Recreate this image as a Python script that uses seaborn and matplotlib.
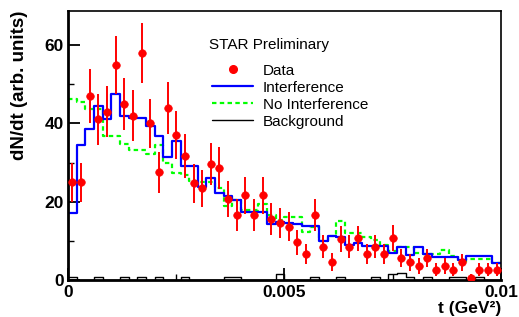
import numpy as np
import pandas as pd
import matplotlib
matplotlib.use("Agg")
import matplotlib.pyplot as plt
import seaborn as sns
from matplotlib.lines import Line2D

# ----------------------------
# DATA (50 bins of 0.0002 GeV^2)
# ----------------------------
t_edges = list(np.linspace(0.0, 0.01, 51))

data = [25, 25, 47, 41, 43, 55, 45, 42, 58, 40,
        27.5, 44, 37, 31.6, 24.7, 23.4, 29.7, 28.6, 20.7, 16.7,
        21.6, 16.7, 21.6, 15.6, 14.6, 13.6, 9.6, 6.6, 16.7, 8.5,
        4.6, 10.5, 8.5, 10.6, 6.6, 8.5, 6.6, 10.7, 5.6, 4.5,
        3.5, 5.6, 2.6, 3.5, 2.6, 4.5, 0.6, 2.6, 2.6, 2.6]

data_err = [5.0, 5.0, 6.9, 6.4, 6.6, 7.4, 6.7, 6.5, 7.6, 6.3,
            5.2, 6.6, 6.1, 5.6, 5.0, 4.8, 5.4, 5.4, 4.6, 4.1,
            4.7, 4.1, 4.7, 4.0, 3.9, 3.7, 3.2, 2.6, 4.1, 3.0,
            2.2, 3.3, 3.0, 3.3, 2.6, 3.0, 2.6, 3.3, 2.4, 2.2,
            2.0, 2.4, 1.7, 2.0, 1.7, 2.2, 1.0, 1.7, 1.7, 1.7]

interference = [17.1, 34.6, 38.5, 44.4, 41.0, 47.5, 41.8, 41.5, 41.5, 39.3,
                36.9, 31.5, 35.6, 29.1, 29.1, 23.8, 26.0, 22.2, 21.5, 20.3,
                17.3, 17.3, 17.3, 14.4, 14.9, 14.6, 14.3, 13.8, 13.8, 10.0,
                11.3, 10.9, 9.0, 9.5, 8.7, 8.7, 8.7, 7.0, 8.4, 6.3,
                8.5, 6.5, 5.9, 5.9, 5.9, 5.0, 6.0, 6.0, 6.0, 4.4]

no_interference = [46.2, 45.5, 43.8, 43.8, 36.8, 36.8, 34.7, 33.1, 33.1, 32.1,
                   34.4, 30.0, 27.2, 26.8, 25.4, 24.9, 24.9, 23.6, 18.8, 20.3,
                   17.9, 17.9, 19.5, 16.7, 15.3, 16.1, 16.1, 12.3, 13.5, 10.0,
                   11.3, 15.1, 12.1, 12.1, 10.9, 10.2, 9.0, 7.3, 8.3, 8.3,
                   6.8, 6.5, 6.5, 7.6, 6.2, 4.4, 5.3, 5.3, 5.3, 4.4]

background = [0.8, 0, 0, 0.8, 0, 0, 0.8, 0, 0.8, 0,
              0.8, 0, 0, 0.8, 0, 0, 0, 0, 0.8, 0.8,
              0, 0, 0, 0, 1.6, 0, 0, 0, 0.8, 0,
              0, 0.8, 0, 0, 0, 0.8, 0, 1.5, 1.7, 0.8,
              0, 0.8, 0, 0, 0.8, 0.8, 0, 0.8, 0, 0]

t_centers = 0.5 * (np.array(t_edges[:-1]) + np.array(t_edges[1:]))

df = pd.DataFrame({
    "t": t_centers,
    "data": data,
    "err": data_err,
    "interf": interference,
    "nointerf": no_interference,
    "bkg": background,
})

# ----------------------------
# PLOT
# ----------------------------
sns.set_style("ticks")
plt.rcParams["font.family"] = ["Liberation Sans", "DejaVu Sans"]
plt.rcParams.update({
    "text.color": "black",
    "axes.labelcolor": "black",
    "axes.edgecolor": "black",
    "xtick.color": "black",
    "ytick.color": "black",
})

fig, ax = plt.subplots(figsize=(5.19, 3.17), dpi=100)
fig.subplots_adjust(left=0.131, right=0.965, bottom=0.117, top=0.965)

sns.histplot(data=df, x="t", weights="bkg", bins=t_edges, element="step",
             fill=False, color="black", linewidth=1.0, ax=ax)
sns.histplot(data=df, x="t", weights="nointerf", bins=t_edges, element="step",
             fill=False, color="#00ff00", linewidth=1.6,
             linestyle=(0, (2, 1.5)), ax=ax)
sns.histplot(data=df, x="t", weights="interf", bins=t_edges, element="step",
             fill=False, color="#0000ff", linewidth=1.6, ax=ax)

ax.errorbar(df["t"], df["data"], yerr=df["err"], fmt="none",
            ecolor="#ff0000", elinewidth=1.4, capsize=0, zorder=4)
sns.scatterplot(data=df, x="t", y="data", color="#ff0000", edgecolor="#ff0000",
                s=30, marker="o", zorder=5, ax=ax)

ax.set_xlim(0, 0.01)
ax.set_ylim(0, 68.7)

ax.set_xticks([0, 0.005, 0.01])
ax.set_xticklabels(["0", "0.005", "0.01"])
ax.set_xticks([0.0025, 0.0075], minor=True)
ax.set_yticks([0, 20, 40, 60])
ax.set_yticks([10, 30, 50], minor=True)

ax.tick_params(axis="both", which="major", direction="in", length=8.5,
               width=1.3, labelsize=12.5, top=False, right=False)
ax.tick_params(axis="both", which="minor", direction="in", length=4.5,
               width=1.0, top=False, right=False)
ax.tick_params(axis="y", pad=3)
ax.tick_params(axis="x", pad=4)
for lab in ax.get_xticklabels() + ax.get_yticklabels():
    lab.set_fontweight("bold")

for side in ["left", "bottom"]:
    ax.spines[side].set_linewidth(2.0)
for side in ["top", "right"]:
    ax.spines[side].set_linewidth(1.2)
    ax.spines[side].set_visible(True)

ax.set_xlabel("t (GeV²)", fontsize=12.5, fontweight="bold", ha="right")
ax.xaxis.set_label_coords(1.0, -0.077)
ax.set_ylabel("dN/dt (arb. units)", fontsize=13.5, fontweight="bold",
              loc="top", labelpad=12)

ax.text(0.326, 0.874, "STAR Preliminary", transform=ax.transAxes,
        fontsize=11, va="center", ha="left")

handles = [
    Line2D([], [], color="#ff0000", marker="o", linestyle="none", markersize=5.5),
    Line2D([], [], color="#0000ff", linewidth=1.6),
    Line2D([], [], color="#00ff00", linewidth=1.6, linestyle=(0, (2, 1.5))),
    Line2D([], [], color="black", linewidth=1.0),
]
labels = ["Data", "Interference", "No Interference", "Background"]
ax.legend(handles, labels, loc="upper left", bbox_to_anchor=(0.333, 0.805),
          frameon=False, fontsize=11, handlelength=2.7, handletextpad=0.6,
          labelspacing=0.2, borderpad=0, borderaxespad=0)

fig.savefig("out.png", dpi=100)
